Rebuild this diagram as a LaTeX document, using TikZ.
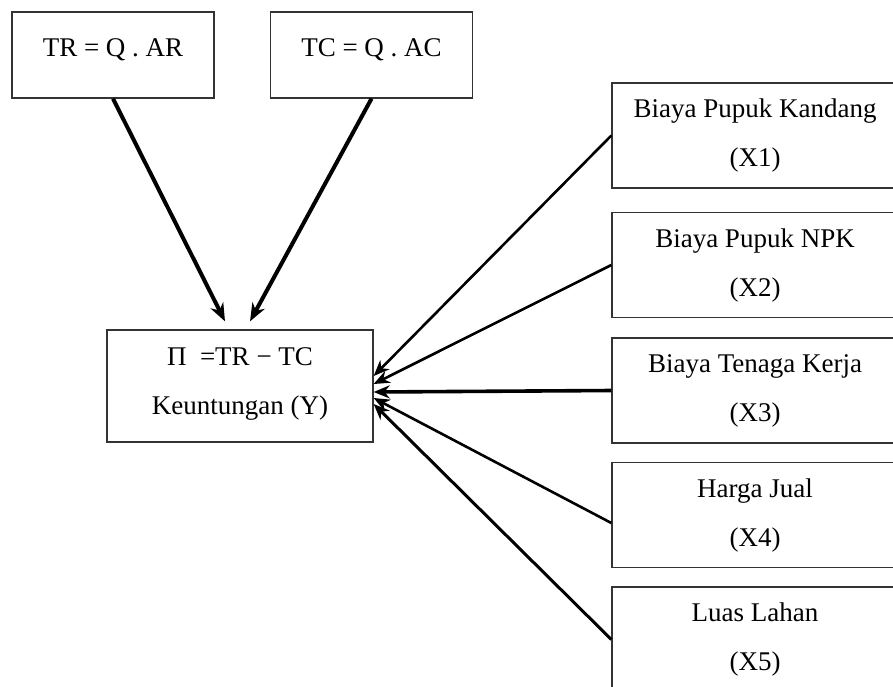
\documentclass[tikz,border=0pt]{standalone}
\usepackage{fontspec}
\setmainfont{Liberation Serif}
\usetikzlibrary{arrows.meta,positioning}

\begin{document}
\begin{tikzpicture}[x=1pt,y=-1pt,
  every node/.style={font=\fontsize{27}{49}\selectfont},
  kotak/.style={draw=black!80,line width=1.3pt,align=center,inner sep=0pt},
  rumus/.style={kotak,minimum width=202pt,minimum height=86pt,text depth=14pt},
  faktor/.style={kotak,minimum width=286pt,minimum height=105pt},
  panah/.style={-{Stealth[length=18pt,width=14pt]},line width=4pt},
  garis/.style={-{Stealth[length=16pt,width=13pt]},line width=2.6pt}]
\useasboundingbox (0,0) rectangle (893,686);
\node[rumus] (tr) at (113,55) {TR = Q . AR};
\node[rumus] (tc) at (371.5,55) {TC = Q . AC};
\node[kotak,minimum width=266pt,minimum height=112pt,text depth=10pt] (laba) at (240,386) {Π\ \ =TR − TC\\Keuntungan (Y)};
\node[faktor] (x1) at (755,135.5) {Biaya Pupuk Kandang\\(X1)};
\node[faktor] (x2) at (755,265) {Biaya Pupuk NPK\\(X2)};
\node[faktor] (x3) at (755,390.5) {Biaya Tenaga Kerja\\(X3)};
\node[faktor] (x4) at (755,515) {Harga Jual\\(X4)};
\node[faktor] (x5) at (755,639.5) {Luas Lahan\\(X5)};
\path[panah]
(tr.south) edge ([xshift=-15pt,yshift=8pt]laba.north)
(tc.south) edge ([xshift=10pt,yshift=8pt]laba.north);
\path[garis]
(x1.west) edge ([yshift=10pt]laba.east)
(x2.west) edge ([yshift=2pt]laba.east)
(x3.west) edge [line width=3.6pt] ([yshift=-6pt]laba.east)
([yshift=-8pt]x4.west) edge ([yshift=-12pt]laba.east)
(x5.west) edge [line width=3pt] ([yshift=-18pt]laba.east);
\end{tikzpicture}
\end{document}
